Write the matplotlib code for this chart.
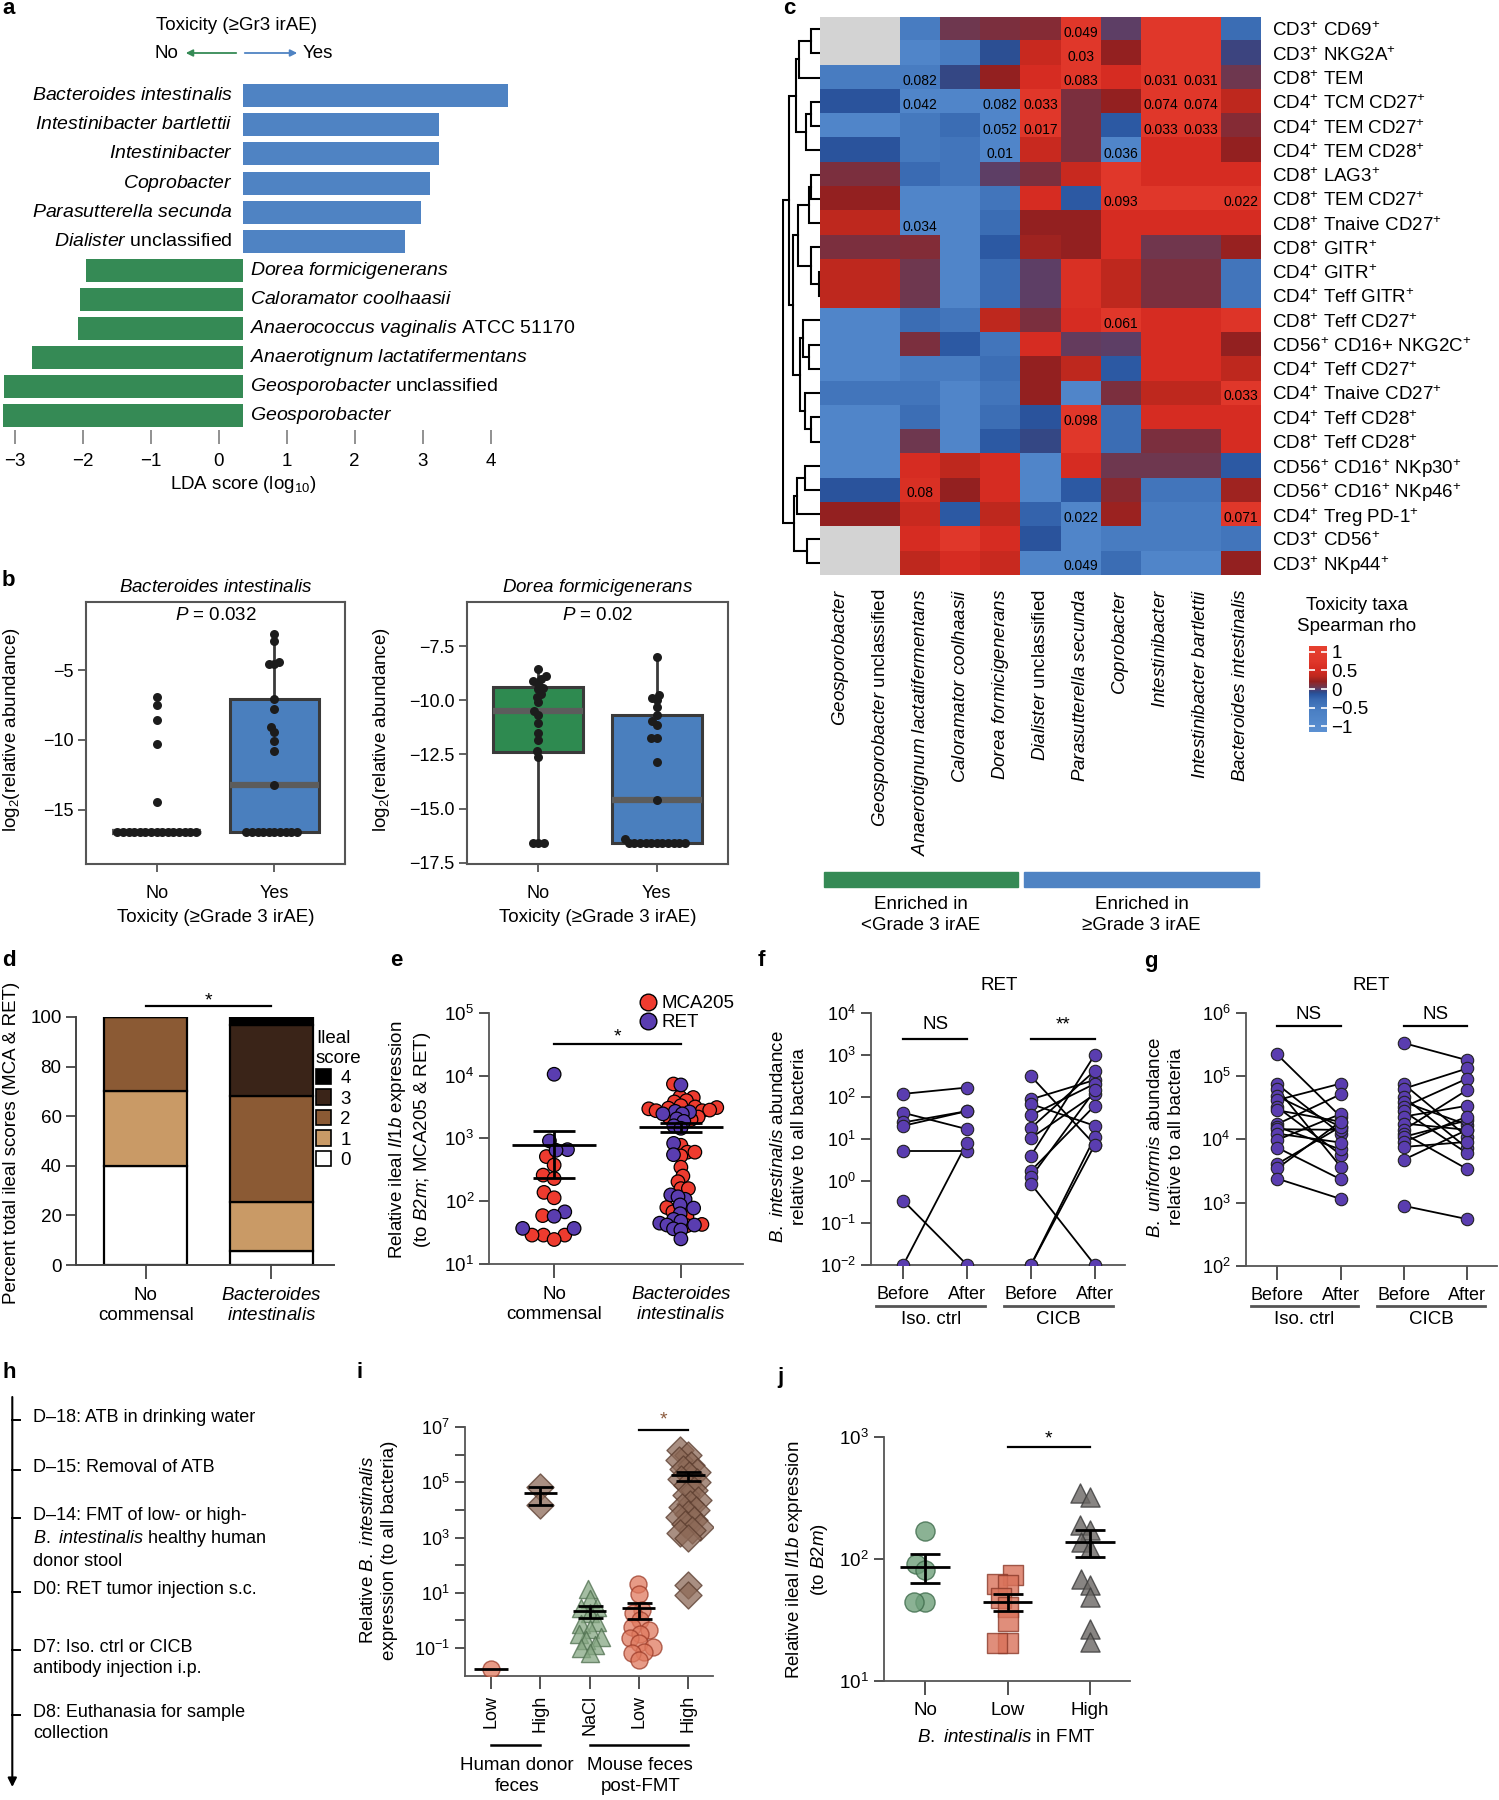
import numpy as np
import matplotlib
matplotlib.use('Agg')
import matplotlib.pyplot as plt
import matplotlib.transforms as mtransforms
from matplotlib.colors import LinearSegmentedColormap, Normalize
from matplotlib.patches import Patch, Rectangle
from matplotlib.lines import Line2D
from matplotlib.ticker import FixedLocator, NullLocator, FuncFormatter

plt.rcParams['font.family'] = ['Liberation Sans', 'DejaVu Sans']
plt.rcParams['font.size'] = 13
plt.rcParams['mathtext.fontset'] = 'custom'
plt.rcParams['mathtext.rm'] = 'Liberation Sans'
plt.rcParams['mathtext.it'] = 'Liberation Sans:italic'
plt.rcParams['mathtext.bf'] = 'Liberation Sans:bold'

# ---------------- data ----------------
# a: LDA scores (log10), positive = enriched in toxicity
lda_taxa = ['Bacteroides intestinalis', 'Intestinibacter bartlettii', 'Intestinibacter', 'Coprobacter',
            'Parasutterella secunda', 'Dialister unclassified', 'Dorea formicigenerans',
            'Caloramator coolhaasii', 'Anaerococcus vaginalis ATCC 51170',
            'Anaerotignum lactatifermentans', 'Geosporobacter unclassified', 'Geosporobacter']
lda_scores = [3.89, 2.88, 2.88, 2.75, 2.62, 2.38, -2.31, -2.40, -2.42, -3.10, -3.52, -3.53]
lda_ticks = [-3, -2, -1, 0, 1, 2, 3, 4]

# b: log2 relative abundance, No / Yes toxicity
bi_no = [-16.6, -16.6, -16.6, -16.6, -16.6, -16.6, -16.6, -16.6, -16.6, -16.6, -16.6, -16.6, -16.6,
         -16.6, -16.6, -6.9, -7.5, -8.6, -10.3, -14.4]
bi_yes = [-2.4, -2.9, -4.4, -4.6, -4.6, -7.05, -7.8, -9.1, -9.4, -10.1, -10.8, -13.2,
          -16.6, -16.6, -16.6, -16.6, -16.6, -16.6, -16.6, -16.6, -16.6, -16.6]
bi_q1 = [-16.6, -16.6]
bi_med = [-16.6, -13.2]
bi_q3 = [-16.6, -7.05]
bi_lo = [-16.6, -16.6]
bi_hi = [-16.6, -2.4]
df_no = [-8.58, -8.89, -9.0, -9.1, -9.23, -9.43, -9.49, -9.69, -9.85, -10.1, -10.5, -10.69, -11.05,
         -11.5, -11.82, -12.35, -12.6, -16.6, -16.6, -16.6]
df_yes = [-7.99, -9.77, -9.88, -10.0, -10.31, -10.66, -10.96, -11.12, -11.73, -11.73, -12.84, -14.62,
          -16.42, -16.6, -16.6, -16.6, -16.6, -16.6, -16.6, -16.6, -16.6, -16.6, -16.6, -16.6]
df_q1 = [-12.39, -16.6]
df_med = [-10.5, -14.6]
df_q3 = [-9.38, -10.68]
df_lo = [-16.6, -16.6]
df_hi = [-8.6, -7.99]

# c: Spearman rho between toxicity taxa and immune populations
heat_rows = ['CD3$^{+}$ CD69$^{+}$', 'CD3$^{+}$ NKG2A$^{+}$', 'CD8$^{+}$ TEM', 'CD4$^{+}$ TCM CD27$^{+}$',
             'CD4$^{+}$ TEM CD27$^{+}$', 'CD4$^{+}$ TEM CD28$^{+}$', 'CD8$^{+}$ LAG3$^{+}$',
             'CD8$^{+}$ TEM CD27$^{+}$', 'CD8$^{+}$ Tnaive CD27$^{+}$', 'CD8$^{+}$ GITR$^{+}$',
             'CD4$^{+}$ GITR$^{+}$', 'CD4$^{+}$ Teff GITR$^{+}$', 'CD8$^{+}$ Teff CD27$^{+}$',
             'CD56$^{+}$ CD16+ NKG2C$^{+}$', 'CD4$^{+}$ Teff CD27$^{+}$', 'CD4$^{+}$ Tnaive CD27$^{+}$',
             'CD4$^{+}$ Teff CD28$^{+}$', 'CD8$^{+}$ Teff CD28$^{+}$', 'CD56$^{+}$ CD16$^{+}$ NKp30$^{+}$',
             'CD56$^{+}$ CD16$^{+}$ NKp46$^{+}$', 'CD4$^{+}$ Treg PD-1$^{+}$', 'CD3$^{+}$ CD56$^{+}$',
             'CD3$^{+}$ NKp44$^{+}$']
heat_cols = ['Geosporobacter', 'Geosporobacter unclassified', 'Anaerotignum lactatifermentans',
             'Caloramator coolhaasii', 'Dorea formicigenerans', 'Dialister unclassified',
             'Parasutterella secunda', 'Coprobacter', 'Intestinibacter', 'Intestinibacter bartlettii',
             'Bacteroides intestinalis']
heat_col_group = ['<Grade 3 irAE', '<Grade 3 irAE', '<Grade 3 irAE', '<Grade 3 irAE', '<Grade 3 irAE',
                  '≥Grade 3 irAE', '≥Grade 3 irAE', '≥Grade 3 irAE', '≥Grade 3 irAE', '≥Grade 3 irAE',
                  '≥Grade 3 irAE']
nan = np.nan
heat_rho = [
    [nan, nan, -0.55, 0.05, 0.10, 0.14, 0.75, 0.00, 0.75, 0.75, -0.33],
    [nan, nan, -0.80, -0.55, -0.11, 0.42, 0.75, 0.20, 0.75, 0.75, -0.05],
    [-0.55, -0.55, -0.55, -0.07, 0.20, 0.55, 0.75, 0.55, 0.75, 0.75, 0.05],
    [-0.14, -0.14, -0.80, -0.80, -0.80, 0.75, 0.10, 0.20, 0.75, 0.75, 0.35],
    [-0.80, -0.80, -0.50, -0.33, -0.80, 0.75, 0.10, -0.18, 0.75, 0.75, 0.14],
    [-0.14, -0.14, -0.50, -0.45, -0.80, 0.42, 0.10, -0.80, 0.55, 0.55, 0.20],
    [0.10, 0.10, -0.30, -0.45, 0.00, 0.10, 0.42, 0.75, 0.55, 0.55, 0.55],
    [0.20, 0.20, -0.80, -0.80, -0.45, 0.55, -0.18, 0.75, 0.75, 0.75, 0.75],
    [0.35, 0.35, -0.80, -0.80, -0.33, 0.20, 0.20, 0.55, 0.55, 0.55, 0.55],
    [0.10, 0.10, 0.13, -0.80, -0.18, 0.26, 0.20, 0.55, 0.06, 0.06, 0.22],
    [0.35, 0.35, 0.05, -0.80, -0.30, 0.00, 0.62, 0.35, 0.10, 0.10, -0.45],
    [0.35, 0.35, 0.05, -0.80, -0.30, 0.00, 0.62, 0.35, 0.10, 0.10, -0.45],
    [-0.80, -0.80, -0.33, -0.45, 0.35, 0.10, 0.55, 0.75, 0.55, 0.55, 0.70],
    [-0.80, -0.80, 0.10, -0.18, -0.45, 0.55, 0.02, 0.00, 0.55, 0.55, 0.20],
    [-0.80, -0.80, -0.55, -0.55, -0.35, 0.20, 0.35, -0.18, 0.55, 0.55, 0.35],
    [-0.45, -0.45, -0.45, -0.80, -0.45, 0.20, -0.80, 0.10, 0.35, 0.35, 0.75],
    [-0.80, -0.80, -0.35, -0.80, -0.35, -0.14, 0.75, -0.33, 0.55, 0.55, 0.55],
    [-0.80, -0.80, 0.05, -0.80, -0.18, -0.07, 0.75, -0.33, 0.10, 0.10, 0.55],
    [-0.80, -0.80, 0.55, 0.35, 0.55, -0.80, 0.55, 0.05, 0.05, 0.05, -0.18],
    [-0.14, -0.14, 0.62, 0.20, 0.55, -0.80, -0.18, 0.16, -0.45, -0.45, 0.26],
    [0.20, 0.20, 0.42, -0.18, 0.35, -0.25, -0.80, 0.24, -0.55, -0.55, 0.75],
    [nan, nan, 0.55, 0.75, 0.55, -0.14, -0.80, -0.55, -0.55, -0.55, -0.45],
    [nan, nan, 0.35, 0.55, 0.42, -0.80, -0.80, -0.33, -0.80, -0.80, 0.20],
]
heat_p = [(0, 6, '0.049'), (1, 6, '0.03'), (2, 2, '0.082'), (2, 6, '0.083'), (2, 8, '0.031'),
          (2, 9, '0.031'), (3, 2, '0.042'), (3, 4, '0.082'), (3, 5, '0.033'), (3, 8, '0.074'),
          (3, 9, '0.074'), (4, 4, '0.052'), (4, 5, '0.017'), (4, 8, '0.033'), (4, 9, '0.033'),
          (5, 4, '0.01'), (5, 7, '0.036'), (7, 7, '0.093'), (7, 10, '0.022'), (8, 2, '0.034'),
          (12, 7, '0.061'), (15, 10, '0.033'), (16, 6, '0.098'), (19, 2, '0.08'), (20, 6, '0.022'),
          (20, 10, '0.071'), (22, 6, '0.049')]
# row dendrogram as (left, right, height) merges
dendro_A = (((0, 1, 0.25), 2, 0.58), ((3, 4, 0.25), 5, 0.39), 0.64)
dendro_B = (((6, 7, 0.25), 8, 0.30), (9, (10, 11, 0.02), 0.25), 0.60)
dendro_C = ((12, (13, 14, 0.30), 0.45), (15, (16, 17, 0.25), 0.40), 0.55)
dendro_D = (((18, 19, 0.42), 20, 0.62), (21, 22, 0.35), 0.70)
dendro_tree = ((dendro_A, (dendro_B, dendro_C, 0.72), 0.85), dendro_D, 1.0)

# d: ileal score distribution (%)
ileal_groups = ['No\ncommensal', '$\\mathit{Bacteroides}$\n$\\mathit{intestinalis}$']
ileal_score0 = [40, 5.5]
ileal_score1 = [30, 20]
ileal_score2 = [30, 42.8]
ileal_score3 = [0, 28.5]
ileal_score4 = [0, 3.2]

# e: log10 relative Il1b expression
e_no_mca = [2.71, 2.575, 2.415, 2.36, 2.14, 2.054, 1.77, 1.46, 1.46, 1.39, 1.46]
e_no_ret = [4.02, 2.96, 2.82, 2.81, 1.83, 1.76, 1.567, 1.567]
e_bi_mca = [3.865, 3.66, 3.65, 3.6, 3.58, 3.52, 3.5, 3.49, 3.48, 3.47, 3.44, 3.45, 3.44, 3.34, 3.33, 3.3,
            2.89, 2.78, 2.78, 2.72, 2.54, 2.4, 2.31, 2.2, 2.2, 1.9, 1.87, 1.83, 1.75, 1.63, 1.61]
e_bi_ret = [3.85, 3.43, 3.42, 3.39, 3.39, 3.31, 3.27, 3.2, 3.16, 2.92, 2.74, 2.1, 2.03, 2.07, 1.94, 1.89,
            1.8, 1.71, 1.68, 1.65, 1.62, 1.62, 1.56, 1.54, 1.4]

# f: log10 B. intestinalis abundance, paired before/after
f_iso_before = [2.07, 1.62, 1.39, 1.31, 0.72, -0.47, -2.0]
f_iso_after = [2.22, 1.23, 1.66, 1.66, 0.72, -2.0, 0.91]
f_cicb_before = [2.49, 1.94, 1.83, 1.56, 1.26, 1.02, 0.60, 0.24, 0.09, -0.07, -2.0, -2.0]
f_cicb_after = [0.86, 2.40, 1.31, 2.31, 2.62, 2.06, 3.00, 1.79, 2.15, -2.0, 1.04, 0.86]

# g: log10 B. uniformis abundance, paired before/after
g_iso_before = [5.34, 4.87, 4.80, 4.68, 4.62, 4.51, 4.46, 4.24, 4.20, 4.16, 4.09, 3.99, 3.87, 3.61, 3.54, 3.38]
g_iso_after = [4.36, 4.09, 3.57, 4.20, 4.88, 3.76, 4.28, 4.71, 3.84, 4.15, 3.95, 4.40, 3.37, 4.20, 4.28, 3.06]
g_cicb_before = [5.52, 4.87, 4.80, 4.67, 4.59, 4.51, 4.44, 4.36, 4.25, 4.15, 4.09, 4.04, 3.96, 3.88, 3.68, 2.95]
g_cicb_after = [5.25, 4.04, 5.12, 3.86, 4.23, 4.96, 3.78, 4.53, 4.15, 4.78, 3.53, 4.30, 4.36, 3.96, 4.15, 2.74]

# h: timeline
h_events = ['D–18: ATB in drinking water', 'D–15: Removal of ATB',
            'D–14: FMT of low- or high-\n$\\mathit{B.\\ intestinalis}$ healthy human\ndonor stool',
            'D0: RET tumor injection s.c.', 'D7: Iso. ctrl or CICB\nantibody injection i.p.',
            'D8: Euthanasia for sample\ncollection']

# i: log10 relative B. intestinalis
i_labels = ['Low', 'High', 'NaCl', 'Low', 'High']
i_human_low = [-1.75]
i_human_high = [4.84, 4.18]
i_nacl = [1.15, 0.79, 0.49, 0.43, 0.25, -0.06, -0.12, -0.3, -0.48, -0.6, -0.72, -0.9, -1.02, -1.2]
i_mouse_low = [1.33, 0.97, 0.39, 0.25, 0.0, -0.24, -0.36, -0.48, -0.66, -0.84, -0.97, -1.15, -1.2, -1.45]
i_mouse_high = [6.16, 5.98, 5.8, 5.62, 5.5, 5.38, 5.26, 5.14, 5.02, 4.9, 4.71, 4.53, 4.35, 4.23, 4.11,
                3.99, 3.87, 3.75, 3.63, 3.51, 3.39, 3.27, 3.15, 2.97, 1.28, 0.92]

# j: log10 relative Il1b expression
j_labels = ['No', 'Low', 'High']
j_no = [2.23, 1.96, 1.91, 1.65, 1.65]
j_low = [1.87, 1.80, 1.79, 1.68, 1.61, 1.49, 1.31, 1.31]
j_high = [2.54, 2.51, 2.28, 2.24, 2.14, 2.09, 1.84, 1.79, 1.69, 1.43, 1.32]

# ---------------- helpers ----------------
W, H = 1499, 1800
fig = plt.figure(figsize=(W / 100, H / 100), dpi=100)


def add_ax(x0, y0, x1, y1):
    return fig.add_axes([x0 / W, 1 - y1 / H, (x1 - x0) / W, (y1 - y0) / H])


def ftext(x, y, s, **kw):
    kw.setdefault('ha', 'center')
    kw.setdefault('va', 'center')
    return fig.text(x / W, 1 - y / H, s, **kw)


def taxon(name):
    plain = {'unclassified', 'ATCC', '51170'}
    parts, buf = [], []
    for w in name.split():
        if w in plain:
            if buf:
                parts.append('$\\mathit{' + '\\ '.join(buf) + '}$')
                buf = []
            parts.append(w)
        else:
            buf.append(w)
    if buf:
        parts.append('$\\mathit{' + '\\ '.join(buf) + '}$')
    return ' '.join(parts)


def swarm_x(ax, xc, vals, gap):
    # simple beeswarm in pixel space
    pix = ax.transData.transform(np.column_stack([np.full(len(vals), float(xc)), vals]))
    ys = pix[:, 1]
    offs = np.zeros(len(vals))
    placed = []
    for i in np.argsort(ys, kind='stable'):
        near = [(xo, yo) for xo, yo in placed if abs(yo - ys[i]) < gap]
        cands = [0.0]
        for xo, yo in near:
            d = np.sqrt(gap ** 2 - (yo - ys[i]) ** 2)
            cands += [xo - d, xo + d]
        cands.sort(key=abs)
        for c in cands:
            if all((c - xo) ** 2 + (ys[i] - yo) ** 2 >= gap ** 2 - 1e-6 for xo, yo in near):
                break
        offs[i] = c
        placed.append((c, ys[i]))
    back = ax.transData.inverted().transform(np.column_stack([pix[:, 0] + offs, ys]))
    return back[:, 0]


def mean_sem(ax, x, logvals, half, cap, lw=2.0):
    v = 10 ** np.asarray(logvals, float)
    m = v.mean()
    ax.hlines(m, x - half, x + half, colors='k', lw=lw, zorder=6)
    if len(v) > 1:
        s = v.std(ddof=1) / np.sqrt(len(v))
        ax.errorbar(x, m, yerr=s, fmt='none', ecolor='k', elinewidth=lw, capsize=cap, capthick=lw, zorder=6)


def log_axes(ax, lw=1.3):
    ax.set_yscale('log')
    for s in ['top', 'right']:
        ax.spines[s].set_visible(False)
    for s in ['left', 'bottom']:
        ax.spines[s].set_color('#555555')
        ax.spines[s].set_linewidth(lw)
    ax.yaxis.set_minor_locator(NullLocator())
    ax.tick_params(colors='#333333', labelcolor='black', width=1.2)


def sig_bar(ax, x0, x1, y, label, ty, color='black', size=14):
    ax.plot([x0, x1], [y, y], color='black', lw=1.6, clip_on=False)
    ax.text((x0 + x1) / 2, ty, label, ha='center', va='center', fontsize=size, color=color)


BLUE = '#4F83C3'
GREEN = '#358A55'

# panel letters
for lab, x, y in [('a', 2, 9), ('b', 2, 580), ('c', 783, 9), ('d', 2, 961), ('e', 390, 961),
                  ('f', 758, 961), ('g', 1144, 961), ('h', 2, 1373), ('i', 356, 1373), ('j', 777, 1377)]:
    ftext(x, y, lab, ha='left', fontweight='bold', fontsize=16)

# ---------------- a ----------------
ax = add_ax(0, 81.25, 600, 430.35)
lda_offset = 0.36
ax.set_xlim(-243 / 68, (600 - 243) / 68)
ax.set_ylim(len(lda_taxa) - 0.5, -0.5)
ax.barh(range(len(lda_taxa)), lda_scores, height=0.79,
        color=[BLUE if v > 0 else GREEN for v in lda_scores])
for i, (name, v) in enumerate(zip(lda_taxa, lda_scores)):
    if v > 0:
        ax.text(-0.15, i, taxon(name), ha='right', va='center', fontsize=14)
    else:
        ax.text(0.1, i, taxon(name), ha='left', va='center', fontsize=14)
ax.set_xticks(np.array(lda_ticks) - lda_offset)
ax.set_xticklabels([str(t).replace('-', '\u2212') for t in lda_ticks], fontsize=13.5)
ax.tick_params(axis='x', length=10, width=1.3, color='#888888', pad=6)
ax.set_yticks([])
for s in ax.spines.values():
    s.set_visible(False)
ftext(243, 484, 'LDA score (log$_{10}$)', fontsize=13.5)
ftext(237, 26, 'Toxicity (≥Gr3 irAE)', fontsize=13.5)
ftext(166, 53, 'No', fontsize=13.5)
ftext(318, 53, 'Yes', fontsize=13.5)
ax.annotate('', xy=(183, H - 53), xytext=(239, H - 53), xycoords='figure pixels',
            arrowprops=dict(arrowstyle='-|>', color=GREEN, lw=1.3, mutation_scale=10))
ax.annotate('', xy=(300, H - 53), xytext=(242, H - 53), xycoords='figure pixels',
            arrowprops=dict(arrowstyle='-|>', color=BLUE, lw=1.3, mutation_scale=10))

# ---------------- b ----------------
def box_panel(rect, no_vals, yes_vals, q1, med, q3, lo, hi, fills, ylim, yticks, title, ptxt, ylab_x):
    ax = add_ax(*rect)
    ax.set_xlim(-0.6, 1.6)
    ax.set_ylim(*ylim)
    stats = [dict(q1=q1[k], med=med[k], q3=q3[k], whislo=lo[k], whishi=hi[k], fliers=[]) for k in range(2)]
    bp = ax.bxp(stats, positions=[0, 1], widths=0.76, patch_artist=True, showcaps=False, showfliers=False,
                boxprops=dict(edgecolor='#3a3a3a', linewidth=2.2),
                medianprops=dict(color='#5c5c5c', linewidth=4.5, solid_capstyle='butt'),
                whiskerprops=dict(color='#3a3a3a', linewidth=2))
    for b, fc in zip(bp['boxes'], fills):
        b.set_facecolor(fc)
        if fc == 'none':
            b.set_edgecolor('#6a6a6a')
    for k, vals in enumerate([no_vals, yes_vals]):
        xs = swarm_x(ax, k, vals, 5.6)
        ax.scatter(xs, vals, s=42, color='#1c1c1c', zorder=4, linewidths=0)
    ax.set_yticks(yticks)
    ax.set_xticks([0, 1])
    ax.set_xticklabels(['No', 'Yes'])
    ax.tick_params(axis='both', labelsize=13, color='#555555', width=1.3)
    ax.tick_params(axis='x', length=6, pad=9)
    ax.tick_params(axis='y', length=6, pad=3)
    for s in ax.spines.values():
        s.set_color('#555555')
        s.set_linewidth(1.5)
    cx = (rect[0] + rect[2]) / 2
    ftext(cx, 587, title, fontsize=13.5)
    ftext(cx, 615, ptxt, fontsize=13.5)
    ftext(cx, 918, 'Toxicity (≥Grade 3 irAE)', fontsize=13.5)
    ftext(ylab_x, 730, 'log$_2$(relative abundance)', rotation=90, fontsize=13.5)
    return ax


box_panel((86, 601.7, 345, 864), bi_no, bi_yes, bi_q1, bi_med, bi_q3, bi_lo, bi_hi, ['none', '#4A7FBE'],
          (-18.86, -0.12), [-5, -10, -15], taxon('Bacteroides intestinalis'), '$\\mathit{P}$ = 0.032', 12)
box_panel((467, 601.7, 728, 864), df_no, df_yes, df_q1, df_med, df_q3, df_lo, df_hi, ['#2E8A50', '#4A7FBE'],
          (-17.56, -5.45), [-7.5, -10.0, -12.5, -15.0, -17.5], taxon('Dorea formicigenerans'),
          '$\\mathit{P}$ = 0.02', 382)

# ---------------- c ----------------
vmin, vmax = -1.16, 1.16
anchors = [(-1.16, '#5B90D2'), (-0.6, '#4B80C4'), (-0.3, '#3A6BB3'), (-0.15, '#2A55A0'),
           (-0.08, '#2F4A88'), (-0.03, '#45407A'), (0.0, '#5C3F68'), (0.05, '#6E3850'), (0.1, '#7A3040'),
           (0.15, '#882A33'), (0.2, '#922020'), (0.26, '#A02420'), (0.35, '#BE281E'), (0.45, '#CC2A20'),
           (0.55, '#D62C22'), (0.75, '#E0372A'), (1.16, '#E6402F')]
cmap = LinearSegmentedColormap.from_list('rho', [((v - vmin) / (vmax - vmin), c) for v, c in anchors])
cmap.set_bad('#D3D3D3')
norm = Normalize(vmin, vmax)

axc = add_ax(820, 17, 1261, 575)
rho = np.ma.masked_invalid(np.array(heat_rho, float))
im = axc.imshow(rho, cmap=cmap, norm=norm, aspect='auto', interpolation='nearest')
for r, c, t in heat_p:
    axc.text(c, r + 0.14, t, ha='center', va='center', fontsize=10, color='black')
axc.yaxis.tick_right()
axc.set_yticks(range(len(heat_rows)))
axc.set_yticklabels(heat_rows, fontsize=13.5)
axc.set_xticks(range(len(heat_cols)))
axc.set_xticklabels([taxon(c) for c in heat_cols], rotation=90, fontsize=13.5)
axc.tick_params(length=0)
axc.tick_params(axis='y', pad=8)
axc.tick_params(axis='x', pad=10)
for s in axc.spines.values():
    s.set_visible(False)

# dendrogram
axd = add_ax(782, 17, 820, 575)
axd.set_xlim(1.03, 0)
axd.set_ylim(len(heat_rows) - 0.5, -0.5)
axd.axis('off')


def draw_tree(node):
    if isinstance(node, int):
        return float(node), 0.0
    left, right, h = node
    yl, hl = draw_tree(left)
    yr, hr = draw_tree(right)
    axd.plot([hl, h, h, hr], [yl, yl, yr, yr], color='black', lw=1.5, solid_joinstyle='miter')
    return (yl + yr) / 2, h


draw_tree(dendro_tree)

# column group bars
trans = mtransforms.blended_transform_factory(axc.transData, fig.transFigure)
groups = []
for k, g in enumerate(heat_col_group):
    if not groups or groups[-1][0] != g:
        groups.append([g, k, k])
    else:
        groups[-1][2] = k
for (g, i0, i1), col in zip(groups, [GREEN, BLUE]):
    axc.add_patch(Rectangle((i0 - 0.4, 1 - 887 / H), (i1 - i0) + 0.85, 15 / H, transform=trans,
                            color=col, clip_on=False))
    axc.text((i0 + i1) / 2 + 0.02, 1 - 915 / H, 'Enriched in\n' + g, transform=trans, ha='center',
             va='center', fontsize=13.5, linespacing=1.3)

# colorbar
cax = add_ax(1309, 646, 1327, 732)
cb = fig.colorbar(im, cax=cax, ticks=[1, 0.5, 0, -0.5, -1])
cb.outline.set_visible(False)
cb.ax.yaxis.set_major_formatter(FuncFormatter(lambda v, p: ('%g' % v).replace('-', '\u2212')))
cb.ax.tick_params(length=4, width=1.2, color='white', direction='in', labelsize=13.5, pad=3,
                  left=True, right=True, labelleft=False, labelright=True)
ftext(1357, 616, 'Toxicity taxa\nSpearman rho', fontsize=13.5, linespacing=1.3)

# ---------------- d ----------------
ax = add_ax(75.5, 1017, 334, 1265)
ax.set_xlim(-0.56, 1.5)
ax.set_ylim(0, 100)
score_colors = ['white', '#C99A66', '#8B5A34', '#3A2418', '#000000']
bottom = np.zeros(2)
handles = []
for k, (vals, col) in enumerate(zip([ileal_score0, ileal_score1, ileal_score2, ileal_score3, ileal_score4],
                                    score_colors)):
    vals = np.array(vals, float)
    ax.bar([0, 1], vals, bottom=bottom, width=0.66, color=col, edgecolor='black', linewidth=1.6)
    bottom += vals
    handles.append(Patch(facecolor=col, edgecolor='black', linewidth=1.2, label=str(k)))
ax.set_yticks([0, 20, 40, 60, 80, 100])
ax.set_xticks([0, 1])
ax.set_xticklabels(ileal_groups)
for s in ['top', 'right']:
    ax.spines[s].set_visible(False)
for s in ['left', 'bottom']:
    ax.spines[s].set_linewidth(1.4)
    ax.spines[s].set_color('#444444')
ax.tick_params(labelsize=13.5, color='#444444', width=1.3)
ax.tick_params(axis='x', length=10, pad=6)
ax.tick_params(axis='y', length=7, pad=3)
leg = ax.legend(handles[::-1], [h.get_label() for h in handles[::-1]], title='Ileal\nscore',
                loc='upper left', bbox_to_anchor=(316 / W, 1 - 1030 / H), bbox_transform=fig.transFigure,
                frameon=False, alignment='left', handlelength=0.8, handleheight=0.9, handletextpad=0.5,
                labelspacing=0.12, borderaxespad=0, borderpad=0, fontsize=13.5, title_fontsize=13.5)
sig_bar(ax, 0, 1, 104.4, '*', 106.5)
ftext(12, 1143, 'Percent total ileal scores (MCA & RET)', rotation=90, fontsize=13.5)

# ---------------- e ----------------
ax = add_ax(489.5, 1012.7, 743, 1264)
log_axes(ax)
ax.set_ylim(10, 1e5)
ax.set_xlim(-0.51, 1.49)
RED, PURPLE = '#EE3B2F', '#5A3DB0'
for k, (mca, ret, gap) in enumerate([(e_no_mca, e_no_ret, 11.5), (e_bi_mca, e_bi_ret, 7.5)]):
    vals = np.array(mca + ret, float)
    cols = [RED] * len(mca) + [PURPLE] * len(ret)
    xs = swarm_x(ax, k, 10 ** vals, gap)
    ax.scatter(xs, 10 ** vals, s=95, c=cols, edgecolors='black', linewidths=0.9, zorder=3)
    mean_sem(ax, k, vals, 0.33, 15)
ax.set_xticks([0, 1])
ax.set_xticklabels(['No\ncommensal', '$\\mathit{Bacteroides}$\n$\\mathit{intestinalis}$'])
ax.tick_params(labelsize=13.5)
ax.tick_params(axis='x', length=10, pad=6)
ax.tick_params(axis='y', length=7, pad=4)
ax.legend([Line2D([], [], ls='', marker='o', ms=12, mfc=RED, mec='black'),
           Line2D([], [], ls='', marker='o', ms=12, mfc=PURPLE, mec='black')], ['MCA205', 'RET'],
          loc='upper left', bbox_to_anchor=(640 / W, 1 - 995 / H), bbox_transform=fig.transFigure,
          frameon=False, handlelength=0.8, handletextpad=0.35, labelspacing=0.1, borderpad=0,
          borderaxespad=0, fontsize=13.5)
sig_bar(ax, 0, 1, 10 ** 4.50, '*', 10 ** 4.62)
ftext(410, 1140, 'Relative ileal $\\mathit{Il1b}$ expression\n(to $\\mathit{B2m}$; MCA205 & RET)',
      rotation=90, fontsize=13.5, linespacing=1.25)


# ---------------- f / g ----------------
def paired_panel(rect, pairs, ylim, yl_x, ylab, sig, sig_y, sig_ty, title_x):
    ax = add_ax(*rect)
    log_axes(ax)
    ax.set_ylim(*ylim)
    ax.set_xlim(-0.5, 3.47)
    for k, (bef, aft) in enumerate(pairs):
        x0, x1 = 2 * k, 2 * k + 1
        for b, a in zip(bef, aft):
            ax.plot([x0, x1], [10 ** b, 10 ** a], color='black', lw=1.3, zorder=2)
        ax.scatter([x0] * len(bef), 10 ** np.array(bef), s=80, color=PURPLE, edgecolors='#222222',
                   linewidths=0.8, zorder=3)
        ax.scatter([x1] * len(aft), 10 ** np.array(aft), s=80, color=PURPLE, edgecolors='#222222',
                   linewidths=0.8, zorder=3)
        ax.plot([x0, x1], [sig_y, sig_y], color='black', lw=1.6)
        ax.text(k * 2 + 0.5, sig_ty, sig[k], ha='center', va='center', fontsize=13.5)
    ax.set_xticks([0, 1, 2, 3])
    ax.set_xticklabels(['Before', 'After', 'Before', 'After'])
    ax.tick_params(labelsize=13)
    ax.tick_params(axis='x', length=10, pad=5)
    ax.tick_params(axis='y', length=7, pad=4)
    tr = mtransforms.blended_transform_factory(ax.transData, fig.transFigure)
    for k, lab in enumerate(['Iso. ctrl', 'CICB']):
        ax.plot([2 * k - 0.42, 2 * k + 1.28], [1 - 1306 / H] * 2, transform=tr, color='#555555', lw=2,
                clip_on=False)
        ax.text(2 * k + 0.43, 1 - 1320 / H, lab, transform=tr, ha='center', va='center', fontsize=13.5)
    ftext(title_x, 985, 'RET', fontsize=13.5)
    ftext(yl_x, 1137, ylab, rotation=90, fontsize=13.5, linespacing=1.25)
    return ax


paired_panel((871.3, 1012.7, 1124.8, 1265), [(f_iso_before, f_iso_after), (f_cicb_before, f_cicb_after)],
             (1e-2, 1e4), 789, '$\\mathit{B.\\ intestinalis}$ abundance\nrelative to all bacteria',
             ['NS', '**'], 10 ** 3.375, 10 ** 3.72, 999)
paired_panel((1245.5, 1012.7, 1497, 1266), [(g_iso_before, g_iso_after), (g_cicb_before, g_cicb_after)],
             (1e2, 1e6), 1166, '$\\mathit{B.\\ uniformis}$ abundance\nrelative to all bacteria',
             ['NS', 'NS'], 10 ** 5.79, 10 ** 5.97, 1371)

# ---------------- h ----------------
ax = add_ax(0, 1380, 330, 1800)
ax.set_xlim(0, 330)
ax.set_ylim(1800, 1380)
ax.axis('off')
ax.annotate('', xy=(12.3, 1787), xytext=(12.3, 1397),
            arrowprops=dict(arrowstyle='-|>', color='black', lw=1.5, mutation_scale=13, shrinkA=0, shrinkB=0))
h_y = [1420, 1470, 1518, 1592, 1650, 1715]
for y, s in zip(h_y, h_events):
    ax.plot([12.3, 20], [y, y], color='black', lw=1.4)
    ax.text(33, y - 11, s, ha='left', va='top', fontsize=13, linespacing=1.3)

# ---------------- i ----------------
ax = add_ax(465, 1427.3, 712.6, 1675.7)
log_axes(ax)
ax.set_ylim(10 ** -2.01, 1e7)
ax.set_xlim(-0.53, 4.5)
ax.yaxis.set_major_locator(FixedLocator([10.0 ** k for k in range(-1, 8)]))
ax.yaxis.set_major_formatter(FuncFormatter(
    lambda v, p: ('$\\mathdefault{10^{%d}}$' % round(np.log10(v))).replace('-', '\u2212')
    if round(np.log10(v)) % 2 else ''))
i_groups = [(i_human_low, 'o', '#E07A5F', '#9B3B28', 150, 10),
            (i_human_high, 'D', '#8D6A58', '#5A3C2E', 190, 12),
            (i_nacl, '^', '#86A783', '#4E6E4E', 170, 10),
            (i_mouse_low, 'o', '#E07A5F', '#9B3B28', 150, 10),
            (i_mouse_high, 'D', '#8D6A58', '#5A3C2E', 190, 9)]
for k, (vals, mk, fc, ec, sz, gap) in enumerate(i_groups):
    v = 10 ** np.array(vals, float)
    xs = swarm_x(ax, k, v, gap)
    ax.scatter(xs, v, s=sz, marker=mk, facecolor=fc, edgecolor=ec, linewidths=1.0, alpha=0.75, zorder=3)
    mean_sem(ax, k, vals, 0.34, 9)
ax.set_xticks(range(5))
ax.set_xticklabels(i_labels, rotation=90)
ax.tick_params(labelsize=13)
ax.tick_params(axis='x', length=9, pad=5)
ax.tick_params(axis='y', length=7, pad=4)
tr = mtransforms.blended_transform_factory(ax.transData, fig.transFigure)
for (x0, x1), lab in zip([(0, 1), (2, 4)], ['Human donor\nfeces', 'Mouse feces\npost-FMT']):
    ax.plot([x0, x1], [1 - 1745 / H] * 2, transform=tr, color='black', lw=1.8, clip_on=False)
    ax.text((x0 + x1) / 2 + 0.03, 1 - 1776 / H, lab, transform=tr, ha='center', va='center', fontsize=13.5,
            linespacing=1.25)
sig_bar(ax, 3, 4, 10 ** 6.9, '*', 10 ** 7.25, color='#8B5A3C')
ftext(379, 1550, 'Relative $\\mathit{B.\\ intestinalis}$\nexpression (to all bacteria)', rotation=90,
      fontsize=13.5, linespacing=1.25)

# ---------------- j ----------------
ax = add_ax(884, 1437.3, 1129.5, 1681)
log_axes(ax)
ax.set_ylim(10, 1000)
ax.set_xlim(-0.5, 2.48)
j_groups = [(j_no, 'o', '#6E9F7A', '#3E6B4B'), (j_low, 's', '#D9725A', '#8B3A2A'),
            (j_high, '^', '#6B6764', '#3A3A3A')]
for k, (vals, mk, fc, ec) in enumerate(j_groups):
    v = 10 ** np.array(vals, float)
    xs = swarm_x(ax, k, v, 11)
    ax.scatter(xs, v, s=190, marker=mk, facecolor=fc, edgecolor=ec, linewidths=1.0, alpha=0.8, zorder=3)
    mean_sem(ax, k, vals, 0.3, 10.5)
ax.set_xticks([0, 1, 2])
ax.set_xticklabels(j_labels)
ax.tick_params(labelsize=13.5)
ax.tick_params(axis='x', length=10, pad=5)
ax.tick_params(axis='y', length=7, pad=4)
sig_bar(ax, 1, 2, 10 ** 2.92, '*', 10 ** 2.99)
ftext(1006, 1737, '$\\mathit{B.\\ intestinalis}$ in FMT', fontsize=13.5)
ftext(807, 1560, 'Relative ileal $\\mathit{Il1b}$ expression\n(to $\\mathit{B2m}$)', rotation=90,
      fontsize=13.5, linespacing=1.25)

fig.savefig('out.png', dpi=100)
